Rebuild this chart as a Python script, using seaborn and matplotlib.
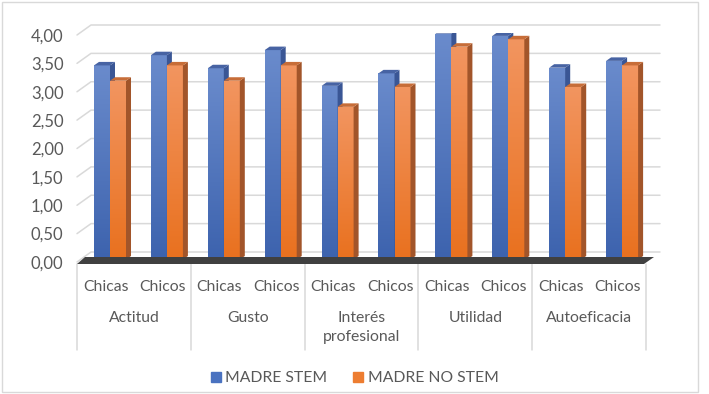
import numpy as np
import pandas as pd
import matplotlib
matplotlib.use("Agg")
import matplotlib.pyplot as plt
from matplotlib.colors import LinearSegmentedColormap
from matplotlib.patches import Polygon, Rectangle
from matplotlib.lines import Line2D
from matplotlib.transforms import ScaledTranslation
import seaborn as sns

# Data
groups = ['Actitud', 'Gusto', 'Interés\nprofesional', 'Utilidad', 'Autoeficacia']
genders = ['Chicas', 'Chicos']
series = ['MADRE STEM', 'MADRE NO STEM']
madre_stem = [3.42, 3.60, 3.37, 3.69, 3.06, 3.28, 3.98, 3.94, 3.38, 3.50]
madre_no_stem = [3.15, 3.42, 3.15, 3.42, 2.69, 3.04, 3.75, 3.88, 3.04, 3.42]
yticks = np.arange(0, 4.01, 0.5)

cats = [f"{g}|{s}" for g in groups for s in genders]
df = pd.DataFrame({
    'cat': cats * 2,
    'valor': madre_stem + madre_no_stem,
    'serie': [series[0]] * len(cats) + [series[1]] * len(cats),
})

BLUE = '#4a72c0'
ORANGE = '#ed7d31'
grads = {
    'b': LinearSegmentedColormap.from_list('b', ['#3d63ae', '#6a8bcc']),
    'o': LinearSegmentedColormap.from_list('o', ['#e9711f', '#f29560']),
}
side_col = {'b': '#3a5695', 'o': '#a2552a'}
top_col = {'b': '#4763a3', 'o': '#c76d38'}
GRID = '#d9d9d9'
TXT = '#595959'

sns.set_style('white')
plt.rcParams['font.family'] = ['Lato', 'DejaVu Sans']

W, H = 709, 394
fig = plt.figure(figsize=(W / 100, H / 100), dpi=100)
# pixel geometry of the bars' plane
X0, SX = 110.0, 56.9     # centre of first category, px per category
Y0, SY = 259.5, 56.75    # px of value 0, px per unit
FRONT = 2.5              # front plane (labels, grid start) sits this many px lower
SHIFT = 4.5              # category slots sit this many px left of the bars
ax = fig.add_axes([(X0 - SX / 2) / W, 1 - Y0 / H, 10 * SX / W, 4 * SY / H])


def dx(px):
    return px / SX


def dy(px):
    return px / SY


def xd(px):
    return (px - X0) / SX


def yd(py):
    return (Y0 - py) / SY


sns.barplot(data=df, x='cat', y='valor', hue='serie', order=cats, hue_order=series,
            palette=[BLUE, ORANGE], width=0.5625, saturation=1, legend=False, ax=ax)

# back wall gridlines with the perspective connectors
for v in yticks:
    yf = v - dy(FRONT)
    ax.plot([xd(77), xd(91), xd(660)], [yf, yf + dy(10), yf + dy(10)],
            color=GRID, lw=1.1, zorder=0, clip_on=False)

# 3D faces and gradients of the bars
ddx, ddy = dx(5), dy(3.5)
for p in list(ax.patches):
    x, w, h = p.get_x(), p.get_width(), p.get_height()
    r, g, b, _ = p.get_facecolor()
    key = 'b' if b > r else 'o'
    z = 2 if key == 'b' else 3
    p.set_zorder(z)
    p.set_linewidth(0)
    img = ax.imshow(np.linspace(0, 1, 100).reshape(-1, 1), cmap=grads[key],
                    extent=(x, x + w, 0, h), origin='lower', aspect='auto', zorder=z)
    img.set_clip_path(p)
    ax.add_patch(Polygon([(x + w, 0), (x + w, h), (x + w + ddx, h + ddy), (x + w + ddx, ddy)],
                         closed=True, fc=side_col[key], ec='none', zorder=z))
    ax.add_patch(Polygon([(x, h), (x + w, h), (x + w + ddx, h + ddy), (x + ddx, h + ddy)],
                         closed=True, fc=top_col[key], ec='none', zorder=z))

# floor slab
ax.add_patch(Polygon([(xd(77), yd(264)), (xd(644), yd(264)), (xd(654), yd(257)), (xd(85), yd(257))],
                     closed=True, fc='#404040', ec='none', zorder=5, clip_on=False))

ax.set_xlim(-0.5, 9.5)
ax.set_ylim(0, 4)
ax.set_yticks(yticks)
ax.set_yticklabels([f"{v:.2f}".replace('.', ',') for v in yticks])
ax.tick_params(axis='y', length=0, pad=13, labelsize=12, labelcolor=TXT)
down = ScaledTranslation(0, -FRONT / 100, fig.dpi_scale_trans)
for lab in ax.get_yticklabels():
    lab.set_transform(lab.get_transform() + down)
ax.set_xticks([])
ax.set_xlabel('')
ax.set_ylabel('')
for s in ax.spines.values():
    s.set_visible(False)

# multi-level category axis
for i, c in enumerate(cats):
    ax.text(i - dx(SHIFT), yd(287), c.split('|')[1], ha='center', va='center',
            fontsize=11.3, color=TXT, clip_on=False)
for k, g in enumerate(groups):
    ax.text(2 * k + 0.5 - dx(SHIFT), yd(311), g, ha='center', va='top', fontsize=11.3,
            color=TXT, linespacing=1.5, clip_on=False)
for k in range(len(groups) + 1):
    xs = 2 * k - 0.5 - dx(SHIFT)
    ax.plot([xs, xs], [yd(264), yd(350)], color=GRID, lw=1.1, clip_on=False, zorder=1)

handles = [Line2D([], [], marker='s', ls='', color=col, markersize=7.2) for col in (BLUE, ORANGE)]
fig.legend(handles, series, loc='center', bbox_to_anchor=(0.5, 1 - 378 / H), ncol=2,
           frameon=False, fontsize=11.3, labelcolor=TXT, handlelength=0.7,
           handletextpad=0.25, columnspacing=1.6)

fig.patches.append(Rectangle((2 / W, 2 / H), 696 / W, 390 / H, transform=fig.transFigure,
                             fill=False, ec=GRID, lw=1))

fig.savefig('out.png', dpi=100)
